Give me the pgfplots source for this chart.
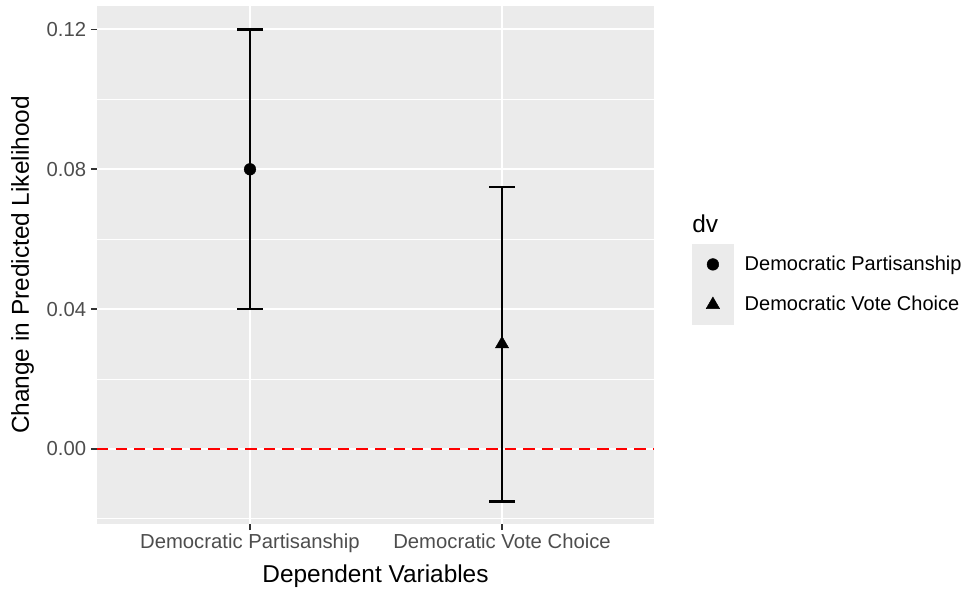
\documentclass[border=0pt]{standalone}
\usepackage{pgfplots}
\pgfplotsset{compat=1.18}
\usepackage{fontspec}
\setmainfont{Liberation Sans}
\definecolor{panel}{HTML}{EBEBEB}
\definecolor{grey30}{HTML}{4D4D4D}
\definecolor{grey20}{HTML}{333333}
\begin{document}
\begin{tikzpicture}
\useasboundingbox (0,0) rectangle (724.5pt,442.5pt);
\begin{axis}[
  at={(72.75pt,49.5pt)}, anchor=south west,
  scale only axis, width=417.75pt, height=388.5pt,
  xmin=0.393, xmax=2.603, ymin=-0.02145, ymax=0.1267,
  axis background/.style={fill=panel},
  axis line style={draw=none},
  xtick={1,2}, xticklabels={Democratic Partisanship, Democratic Vote Choice},
  ytick={0,0.04,0.08,0.12},
  yticklabels={0.00,0.04,0.08,0.12},
  minor ytick={-0.02,0.02,0.06,0.10},
  grid=both,
  major grid style={white, line width=1.5pt},
  minor grid style={white, line width=0.75pt},
  minor tick length=0pt,
  tick align=outside, major tick length=4.5pt,
  tick style={grey20, line width=1.2pt},
  xtick pos=bottom, ytick pos=left,
  ticklabel style={font=\fontsize{15.2}{18}\selectfont, text=grey30},
  yticklabel style={anchor=east, inner sep=0pt, xshift=-3.5pt},
  xticklabel style={anchor=base, inner sep=0pt, yshift=-13.5pt},
  xlabel={Dependent Variables},
  ylabel={Change in Predicted Likelihood},
  label style={font=\fontsize{18.3}{21}\selectfont, text=black},
  xlabel style={at={(axis description cs:0.5,-0.112)}, anchor=base, inner sep=0pt},
  ylabel style={at={(axis description cs:-0.1225,0.5)}, anchor=base, inner sep=0pt, rotate=0},
  legend style={at={(axis description cs:1.0682,0.5405)}, anchor=north west,
    draw=none, fill=none, inner sep=0pt, row sep=0pt,
    font=\fontsize{15}{18}\selectfont,
    nodes={inner sep=0pt, minimum height=28.5pt},
    /tikz/every odd column/.append style={column sep=8.4pt}},
  legend cell align=left,
  legend image code/.code={%
    \fill[panel] (0pt,-14.25pt) rectangle (29.25pt,14.25pt);
    \draw[#1] plot coordinates {(14.625pt,0pt)};},
  clip=false,
]
\addplot[red, line width=1.7pt, dash pattern=on 8.5pt off 5.4pt, forget plot] coordinates {(0.393,0) (2.603,0)};
\addplot[black, line width=1.7pt, only marks, mark=*, mark size=4.4pt, mark options={solid, line width=0.3pt},
  error bars/.cd, y dir=both, y explicit,
  error bar style={line width=1.7pt, black},
  error mark=|, error mark options={mark size=9.4pt, line width=1.7pt, black}]
  coordinates {(1,0.08) +- (0,0.04)};
\addlegendentry{Democratic Partisanship}
\addplot[black, line width=1.7pt, only marks, mark=triangle*, mark size=5.8pt, mark options={solid, line width=0.3pt},
  error bars/.cd, y dir=both, y explicit,
  error bar style={line width=1.7pt, black},
  error mark=|, error mark options={mark size=9.4pt, line width=1.7pt, black}]
  coordinates {(2,0.03) += (0,0.045) -= (0,0.045)};
\addlegendentry{Democratic Vote Choice}
\end{axis}
\node[anchor=base west, inner sep=0pt, font=\fontsize{18.3}{21}\selectfont] at (519pt,268.5pt) {dv};
\end{tikzpicture}
\end{document}
